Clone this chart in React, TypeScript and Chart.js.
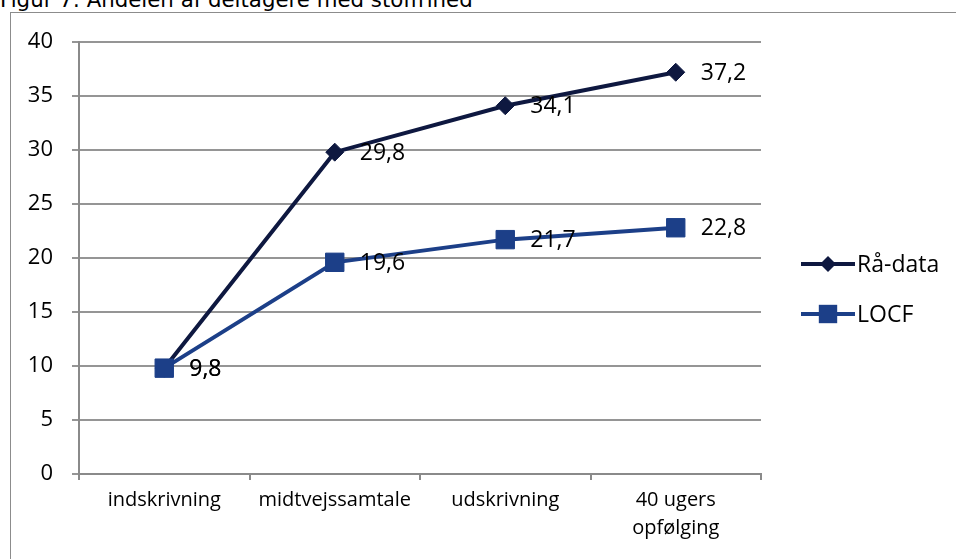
import React, { useEffect, useRef } from "react";
import { Chart, registerables } from "chart.js";

Chart.register(...registerables);

const titleText = "Figur 7: Andelen af deltagere med stoffrihed";
const categories: (string | string[])[] = ["indskrivning", "midtvejssamtale", "udskrivning", ["40 ugers", "opfølging"]];
const seriesNames = ["Rå-data", "LOCF"];
const raaData = [9.8, 29.8, 34.1, 37.2];
const locfData = [9.8, 19.6, 21.7, 22.8];
const yMin = 0;
const yMax = 40;
const yStep = 5;

const colorRaa = "#0e1840";
const colorLocf = "#1c3f88";
const FONT = "'Open Sans', 'Noto Sans', sans-serif";

const fmt = (v: number) => v.toFixed(1).replace(".", ",");

const dataLabelPlugin = {
  id: "dataLabels",
  afterDatasetsDraw(chart: any) {
    const ctx = chart.ctx;
    ctx.save();
    ctx.font = `23px ${FONT}`;
    ctx.fillStyle = "#000";
    ctx.textAlign = "left";
    ctx.textBaseline = "middle";
    chart.data.datasets.forEach((ds: any, i: number) => {
      const meta = chart.getDatasetMeta(i);
      meta.data.forEach((pt: any, j: number) => {
        ctx.fillText(fmt(ds.data[j]), pt.x + 25, pt.y + 1);
      });
    });
    ctx.restore();
  },
};

const legendPlugin = {
  id: "customLegend",
  afterDraw(chart: any) {
    const ctx = chart.ctx;
    const items = [
      { name: seriesNames[0], color: colorRaa, style: "rectRot", radius: 8, y: 264 },
      { name: seriesNames[1], color: colorLocf, style: "rect", radius: 13, y: 314 },
    ];
    const x0 = 801;
    const x1 = 855;
    ctx.save();
    items.forEach((it) => {
      ctx.strokeStyle = it.color;
      ctx.lineWidth = 4;
      ctx.beginPath();
      ctx.moveTo(x0, it.y);
      ctx.lineTo(x1, it.y);
      ctx.stroke();
      ctx.fillStyle = it.color;
      const cx = (x0 + x1) / 2;
      ctx.beginPath();
      if (it.style === "rectRot") {
        ctx.moveTo(cx - it.radius, it.y);
        ctx.lineTo(cx, it.y - it.radius);
        ctx.lineTo(cx + it.radius, it.y);
        ctx.lineTo(cx, it.y + it.radius);
        ctx.closePath();
      } else {
        const h = it.radius * Math.SQRT1_2;
        ctx.rect(cx - h, it.y - h, 2 * h, 2 * h);
      }
      ctx.fill();
      ctx.fillStyle = "#000";
      ctx.font = `23px ${FONT}`;
      ctx.textAlign = "left";
      ctx.textBaseline = "middle";
      ctx.fillText(it.name, x1 + 2, it.y + 1);
    });
    ctx.restore();
  },
};

export default function App() {
  const canvasRef = useRef<HTMLCanvasElement | null>(null);

  useEffect(() => {
    if (!canvasRef.current) return;
    const chart = new Chart(canvasRef.current, {
      type: "line",
      data: {
        labels: categories as any,
        datasets: [
          {
            label: seriesNames[0],
            data: raaData,
            borderColor: colorRaa,
            backgroundColor: colorRaa,
            borderWidth: 4,
            pointStyle: "rectRot",
            pointRadius: 9,
            pointBorderWidth: 1,
            pointBackgroundColor: colorRaa,
            pointBorderColor: colorRaa,
            tension: 0,
            order: 1,
          },
          {
            label: seriesNames[1],
            data: locfData,
            borderColor: colorLocf,
            backgroundColor: colorLocf,
            borderWidth: 4,
            pointStyle: "rect",
            pointRadius: 13,
            pointBorderWidth: 1,
            pointBackgroundColor: colorLocf,
            pointBorderColor: colorLocf,
            tension: 0,
            order: 0,
          },
        ],
      },
      options: {
        animation: false,
        responsive: false,
        devicePixelRatio: 1,
        layout: { padding: { left: 0, top: 42, right: 195, bottom: 0 } },
        plugins: {
          legend: { display: false },
          tooltip: { enabled: false },
          title: { display: false },
        },
        scales: {
          x: {
            offset: true,
            grid: {
              display: true,
              drawOnChartArea: false,
              drawTicks: true,
              tickLength: 6,
              color: "#8a8a8a",
              lineWidth: 2,
              offset: true,
            },
            border: { display: true, color: "#8a8a8a", width: 2 },
            ticks: {
              color: "#000",
              font: { family: FONT, size: 20, lineHeight: 1.4 },
              padding: 6,
              maxRotation: 0,
              autoSkip: false,
            },
            afterFit(scale: any) {
              scale.height = 85;
            },
          },
          y: {
            min: yMin,
            max: yMax,
            grid: {
              color: "#959595",
              lineWidth: 2,
              drawTicks: true,
              tickLength: 7,
            },
            border: { display: true, color: "#8a8a8a", width: 2 },
            ticks: {
              stepSize: yStep,
              color: "#000",
              font: { family: FONT, size: 22 },
              padding: 19,
            },
            afterFit(scale: any) {
              scale.width = 79;
            },
          },
        },
      },
      plugins: [dataLabelPlugin, legendPlugin],
    });
    return () => chart.destroy();
  }, []);

  return (
    <div style={{ position: "fixed", left: 0, top: 0, width: 956, height: 559, overflow: "hidden", background: "#fff" }}>
      <div
        style={{
          position: "absolute",
          left: 0,
          top: -13,
          fontFamily: "'DejaVu Sans', sans-serif",
          fontSize: 21.3,
          lineHeight: "25px",
          whiteSpace: "nowrap",
          color: "#000",
        }}
      >
        {titleText}
      </div>
      <div
        style={{
          position: "absolute",
          left: 10,
          top: 12,
          width: 1000,
          height: 600,
          border: "1px solid #8c8c8c",
          boxSizing: "border-box",
        }}
      />
      <canvas ref={canvasRef} width={956} height={559} style={{ position: "absolute", left: 0, top: 0, width: 956, height: 559 }} />
    </div>
  );
}
